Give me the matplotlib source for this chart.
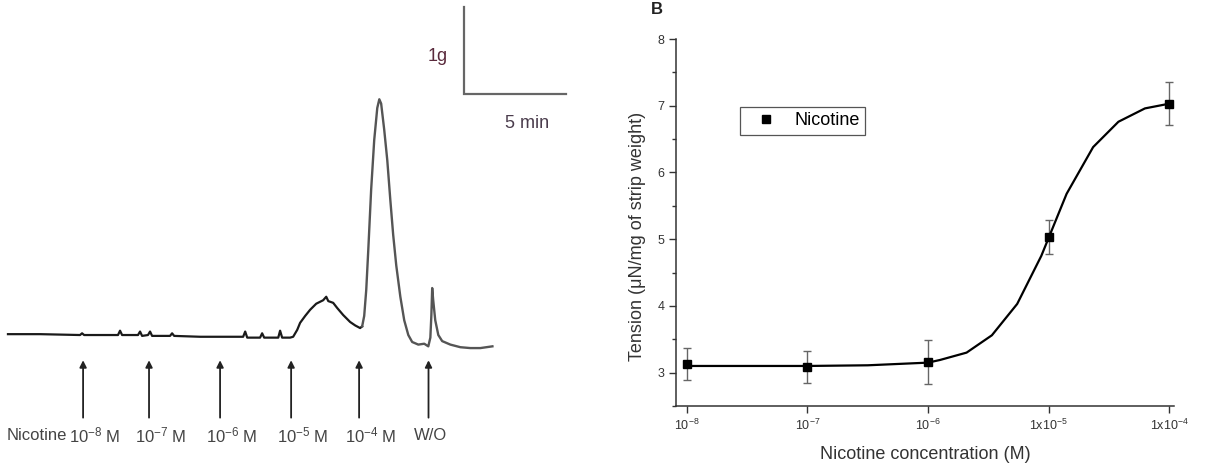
import matplotlib
matplotlib.use('Agg')
import matplotlib.pyplot as plt
from matplotlib.ticker import FixedLocator, MultipleLocator, NullLocator

plt.rcParams['font.family'] = ['Liberation Sans', 'DejaVu Sans']
plt.rcParams['mathtext.fontset'] = 'custom'
plt.rcParams['mathtext.rm'] = 'Liberation Sans'
plt.rcParams['mathtext.it'] = 'Liberation Sans:italic'

# ---- panel A: isometric tension trace (time in min, tension in g above baseline)
trace_t = [0.00, 1.57, 3.53, 3.63, 3.73, 5.39, 5.49, 5.59, 6.37, 6.47, 6.57, 6.86, 6.96, 7.06,
           7.94, 8.04, 8.14, 9.41, 10.88, 11.52, 11.62, 11.72, 12.35, 12.45, 12.55, 13.24,
           13.33, 13.43, 13.82, 13.97,
           14.17, 14.31, 14.56, 14.80, 15.10, 15.44, 15.59, 15.69, 15.93, 16.13, 16.42, 16.76,
           17.01, 17.25, 17.35,
           17.45, 17.55, 17.65, 17.79, 17.94, 18.09, 18.19, 18.28, 18.43, 18.58, 18.73, 18.87,
           19.02, 19.22, 19.41, 19.61, 19.80, 20.10, 20.39, 20.59, 20.69, 20.74, 20.78, 20.83,
           20.93, 21.08, 21.27, 21.67, 22.16, 22.65, 23.14, 23.73]
trace_g = [0.01, 0.01, 0.00, 0.02, 0.00, 0.00, 0.05, 0.00, 0.00, 0.04, -0.01, 0.00, 0.04, -0.01,
           -0.01, 0.02, -0.01, -0.02, -0.02, -0.02, 0.04, -0.03, -0.03, 0.02, -0.03, -0.03,
           0.05, -0.03, -0.03, -0.02,
           0.06, 0.14, 0.22, 0.29, 0.36, 0.40, 0.44, 0.39, 0.37, 0.31, 0.23, 0.15,
           0.11, 0.08, 0.10,
           0.22, 0.52, 0.98, 1.67, 2.24, 2.61, 2.71, 2.66, 2.36, 2.01, 1.55, 1.15,
           0.80, 0.44, 0.17, 0.00, -0.08, -0.11, -0.10, -0.13, -0.03, 0.23, 0.54, 0.40,
           0.17, 0.00, -0.07, -0.11, -0.14, -0.15, -0.15, -0.13]
dose_times = [3.68, 6.91, 10.39, 13.87, 17.2, 20.6]
dose_labels = ['$10^{-8}$ M', '$10^{-7}$ M', '$10^{-6}$ M', '$10^{-5}$ M', '$10^{-4}$ M', 'W/O']

# ---- panel B: concentration-response
conc = [1e-8, 1e-7, 1e-6, 1e-5, 1e-4]
tension = [3.13, 3.09, 3.165, 5.03, 7.03]
tension_sem = [0.235, 0.24, 0.33, 0.25, 0.32]
fit_logc = [-8.0, -7.0, -6.5, -6.0, -5.9, -5.68, -5.47, -5.26, -5.06, -4.85, -4.63, -4.42, -4.20, -4.0]
fit_tension = [3.10, 3.10, 3.11, 3.15, 3.19, 3.30, 3.56, 4.03, 4.75, 5.68, 6.38, 6.76, 6.96, 7.03]
xtick_labels = ['$10^{-8}$', '$10^{-7}$', '$10^{-6}$', '1x$10^{-5}$', '1x$10^{-4}$']

fig = plt.figure(figsize=(12.1, 4.65), dpi=100)

# panel A
axA = fig.add_axes([0, 0, 600 / 1210, 1])
axA.set_xlim(-0.39, 29.0)
axA.set_ylim(-1.494, 3.851)
axA.axis('off')
split = trace_t.index(17.35) + 1
axA.plot(trace_t[:split], trace_g[:split], color='#1a1a1a', lw=1.6)
axA.plot(trace_t[split - 1:], trace_g[split - 1:], color='#555555', lw=1.7)

for t, lab in zip(dose_times, dose_labels):
    axA.annotate('', xy=(t, -0.29), xytext=(t, -0.95),
                 arrowprops=dict(arrowstyle='-|>', color='#222222', lw=1.3,
                                 mutation_scale=10, shrinkA=0, shrinkB=0))
    axA.text(t - 0.7, -1.15, lab, ha='left', va='center', fontsize=12, color='#444444')
axA.text(dose_times[0] - 0.8, -1.15, 'Nicotine', ha='right', va='center', fontsize=12,
         color='#444444')

# scale bar: 1 g, 5 min
bar_t0, bar_g0 = 22.35, 2.77
axA.plot([bar_t0, bar_t0, bar_t0 + 5], [bar_g0 + 1, bar_g0, bar_g0], color='#666666', lw=1.6,
         solid_joinstyle='miter')
axA.text(21.03, 3.20, '1g', ha='center', va='center', fontsize=13, color='#5a2a3c')
axA.text(25.44, 2.43, '5 min', ha='center', va='center', fontsize=13, color='#4a3c4c')

# panel B
axB = fig.add_axes([676 / 1210, 1 - 406 / 465, 498 / 1210, 367 / 465])
axB.set_xscale('log')
axB.set_xlim(10 ** -8.091, 10 ** -3.959)
axB.set_ylim(2.5, 8)
axB.errorbar(conc, tension, yerr=tension_sem, fmt='none', ecolor='#666666', elinewidth=1,
             capsize=3, capthick=1)
axB.plot([10 ** v for v in fit_logc], fit_tension, color='black', lw=1.6)
axB.plot(conc, tension, 's', color='black', ms=5.5, label='Nicotine')

for s in ['top', 'right']:
    axB.spines[s].set_visible(False)
for s in ['left', 'bottom']:
    axB.spines[s].set_color('#333333')
    axB.spines[s].set_linewidth(1.1)

axB.xaxis.set_major_locator(FixedLocator(conc))
axB.xaxis.set_minor_locator(NullLocator())
axB.set_xticklabels(xtick_labels)
axB.set_yticks([3, 4, 5, 6, 7, 8])
axB.yaxis.set_minor_locator(MultipleLocator(0.5))
axB.tick_params(axis='both', which='major', direction='out', length=5, width=1,
                color='#333333', labelsize=9, labelcolor='#333333')
axB.tick_params(axis='y', which='minor', direction='out', length=3, width=1, color='#333333')

axB.text(-0.078, 0.463, 'Tension (\u03bcN/mg of strip weight)', rotation=90, ha='center',
         va='center', fontsize=13, color='#333333', transform=axB.transAxes)
axB.text(0.5, -0.1335, 'Nicotine concentration (M)', ha='center', va='center', fontsize=13,
         color='#333333', transform=axB.transAxes)

leg = axB.legend(loc='upper left', bbox_to_anchor=(0.1285, 0.8147), borderaxespad=0,
                 fancybox=False, edgecolor='#555555', fontsize=13, handlelength=2.3,
                 handletextpad=0.42, borderpad=0.3, framealpha=1, markerscale=1.1)
leg.get_frame().set_linewidth(0.9)

fig.text(657 / 1210, 1 - 9 / 465, 'B', ha='center', va='center', fontsize=12,
         fontweight='bold', color='#222222')

fig.savefig('out.png', dpi=100)
